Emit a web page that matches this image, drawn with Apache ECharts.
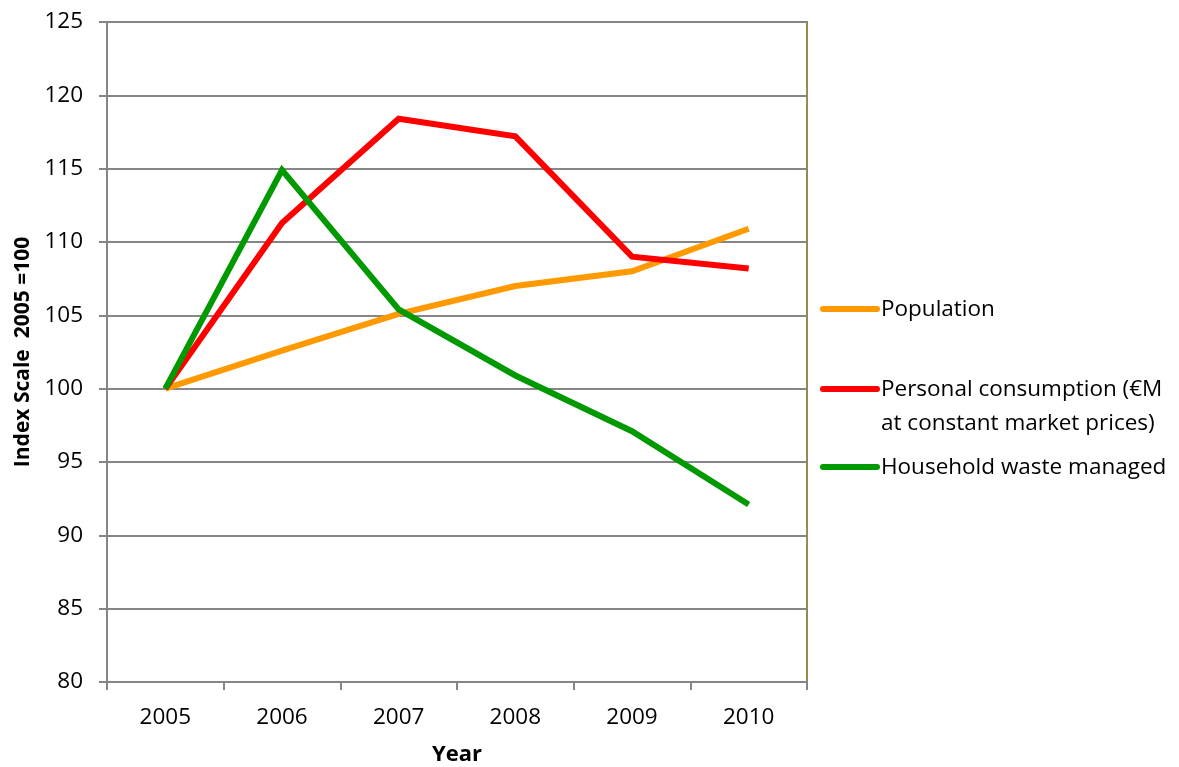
<!DOCTYPE html>
<html>
<head>
<meta charset="utf-8">
<script src="https://cdn.jsdelivr.net/npm/echarts@6/dist/echarts.min.js"></script>
<style>
  html, body { margin: 0; padding: 0; background: #fff; }
  #chart { width: 1179px; height: 767px; }
</style>
</head>
<body>
<div id="chart"></div>
<script>
// Index values, 2005 = 100
const years = ['2005', '2006', '2007', '2008', '2009', '2010'];
const population = [100, 102.6, 105.1, 107.0, 108.0, 110.9];
const personalConsumption = [100, 111.3, 118.4, 117.2, 109.0, 108.2];
const householdWaste = [100, 114.9, 105.4, 100.9, 97.1, 92.1];

const seriesNames = [
  'Population',
  'Personal consumption (€M\nat constant market prices)',
  'Household waste managed'
];
const seriesColors = ['#FF9900', '#FF0000', '#009900'];
const seriesData = [population, personalConsumption, householdWaste];

const FONT = '"Open Sans", "Liberation Sans", sans-serif';
const axisGray = '#868686';
const borderOlive = '#948A54';

const chart = echarts.init(document.getElementById('chart'));

// legend drawn as line swatches with labels to the right of the plot
const legendTops = [309, 389, 467];
const legendGraphics = [];
seriesNames.forEach((name, i) => {
  legendGraphics.push({
    type: 'line',
    shape: { x1: 823, y1: legendTops[i], x2: 877, y2: legendTops[i] },
    style: { stroke: seriesColors[i], lineWidth: 6, lineCap: 'round' }
  });
  legendGraphics.push({
    type: 'text',
    x: 881,
    y: legendTops[i] - 16,
    style: {
      text: name,
      font: '22.5px ' + FONT,
      fill: '#000',
      lineHeight: 34,
      textVerticalAlign: 'top'
    }
  });
});

chart.setOption({
  animation: false,
  backgroundColor: '#fff',
  grid: {
    left: 107, top: 22, width: 700, height: 660,
    outerBoundsMode: 'none',
    containLabel: false,
    show: true, borderColor: borderOlive, borderWidth: 2,
    backgroundColor: 'transparent'
  },
  xAxis: {
    type: 'category',
    data: years,
    boundaryGap: true,
    name: 'Year',
    nameLocation: 'middle',
    nameGap: 62,
    nameTextStyle: { fontFamily: FONT, fontSize: 22, fontWeight: 'bold', color: '#000' },
    axisLine: { lineStyle: { color: axisGray, width: 2 } },
    axisTick: { show: true, length: 8, alignWithLabel: false, lineStyle: { color: axisGray, width: 2 } },
    axisLabel: { fontFamily: FONT, fontSize: 22.5, color: '#000', margin: 24 },
    splitLine: { show: false }
  },
  yAxis: {
    type: 'value',
    min: 80, max: 125, interval: 5,
    name: 'Index Scale  2005 =100',
    nameLocation: 'middle',
    nameRotate: 90,
    nameGap: 73,
    nameTextStyle: { fontFamily: FONT, fontSize: 21, fontWeight: 'bold', color: '#000' },
    axisLine: { show: true, lineStyle: { color: axisGray, width: 2 } },
    axisTick: { show: true, length: 8, lineStyle: { color: axisGray, width: 2 } },
    axisLabel: { fontFamily: FONT, fontSize: 22.5, color: '#000', margin: 24 },
    splitLine: { show: true, lineStyle: { color: axisGray, width: 2 } }
  },
  series: seriesNames.map((name, i) => ({
    name: name,
    type: 'line',
    data: seriesData[i],
    symbol: 'none',
    lineStyle: { color: seriesColors[i], width: 6, cap: 'butt', join: 'miter' },
    itemStyle: { color: seriesColors[i] },
    z: 3 + i
  })),
  graphic: legendGraphics
});
</script>
</body>
</html>
